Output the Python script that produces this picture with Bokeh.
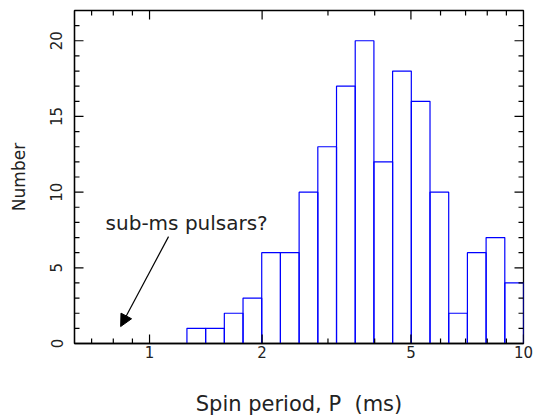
import math
from bokeh.plotting import figure
from bokeh.models import (FixedTicker, Label, Arrow, NormalHead)
from bokeh.embed import file_html
from bokeh.resources import INLINE

# log10 of bin edges (ms)
bin_edges_log = [0.10, 0.15, 0.20, 0.25, 0.30, 0.35, 0.40, 0.45, 0.50, 0.55,
                 0.60, 0.65, 0.70, 0.75, 0.80, 0.85, 0.90, 0.95, 1.00]
counts = [1, 1, 2, 3, 6, 6, 10, 13, 17, 20, 12, 18, 16, 10, 2, 6, 7, 4]

x_major = [1, 2, 5, 10]
x_minor = [0.7, 0.8, 0.9, 3, 4, 6, 7, 8, 9]
y_major = [0, 5, 10, 15, 20]
y_minor = [1, 2, 3, 4, 6, 7, 8, 9, 11, 12, 13, 14, 16, 17, 18, 19, 21]

X0, X1 = 0.63, 10
Y0, Y1 = 0, 22

FONT = "DejaVu Sans"
TXT = "#222222"

lefts = [10 ** e for e in bin_edges_log[:-1]]
rights = [10 ** e for e in bin_edges_log[1:]]

p = figure(width=535, height=419, x_axis_type="log", x_range=(X0, X1),
           y_range=(Y0, Y1), output_backend="svg", toolbar_location=None,
           min_border_left=74, min_border_right=12, min_border_top=10,
           min_border_bottom=0, frame_width=449, frame_height=333)
p.xgrid.visible = False
p.ygrid.visible = False
p.outline_line_color = "black"
p.outline_line_width = 1.3

p.quad(left=lefts, right=rights, bottom=0, top=counts, fill_color=None,
       line_color="#0000ff", line_width=1.2)

# inward ticks on all four sides
def ticks(xs, ys, length, angle):
    p.ray(x=xs, y=ys, length=length, length_units="screen", angle=angle,
          line_color="black", line_width=1.2)

ticks(x_major, [Y0] * len(x_major), 9, math.pi / 2)
ticks(x_minor, [Y0] * len(x_minor), 5, math.pi / 2)
ticks(x_major, [Y1] * len(x_major), 9, -math.pi / 2)
ticks(x_minor, [Y1] * len(x_minor), 5, -math.pi / 2)
ticks([X0] * len(y_major), y_major, 9, 0)
ticks([X0] * len(y_minor), y_minor, 5, 0)
ticks([X1] * len(y_major), y_major, 9, math.pi)
ticks([X1] * len(y_minor), y_minor, 5, math.pi)


def style(ax):
    ax.axis_line_color = "black"
    ax.axis_line_width = 1.3
    ax.major_tick_in = 0
    ax.major_tick_out = 0
    ax.minor_tick_in = 0
    ax.minor_tick_out = 0
    ax.major_label_text_font = FONT
    ax.major_label_text_color = TXT
    ax.major_label_text_font_size = "15px"
    ax.axis_label_text_font = FONT
    ax.axis_label_text_font_style = "normal"
    ax.axis_label_text_color = TXT


xa = p.xaxis[0]
xa.ticker = FixedTicker(ticks=x_major, minor_ticks=x_minor)
style(xa)
xa.major_label_standoff = 2
xa.axis_label = "Spin period, P\u00a0\u00a0(ms)"
xa.axis_label_text_font_size = "21px"
xa.axis_label_standoff = 31

ya = p.yaxis[0]
ya.ticker = FixedTicker(ticks=y_major, minor_ticks=y_minor)
style(ya)
ya.major_label_orientation = "vertical"
ya.major_label_standoff = 12
ya.axis_label = "Number"
ya.axis_label_text_font_size = "17px"
ya.axis_label_standoff = 19

p.add_layout(Label(x=0.763, y=7.94, text="sub-ms pulsars?", text_font=FONT,
                   text_font_size="20px", text_color=TXT,
                   text_align="left", text_baseline="alphabetic"))

p.add_layout(Arrow(x_start=1.124, y_start=7.06, x_end=0.837, y_end=1.12,
                   line_color="black", line_width=1.2,
                   end=NormalHead(size=12, fill_color="black",
                                  line_color="black")))

open("out.html", "w").write(file_html(p, INLINE))
